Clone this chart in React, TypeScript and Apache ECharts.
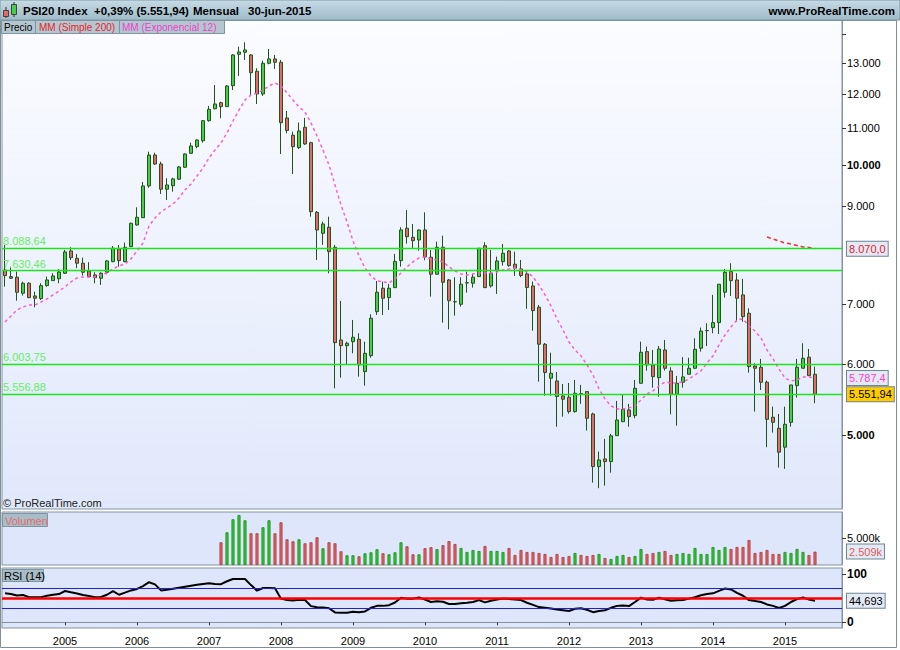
import React, { useEffect, useRef } from 'react';
import * as echarts from 'echarts';

// ---------- data ----------
const START_YEAR = 2004;
const START_MONTH = 3; // first candle: March 2004
const EMPTY_MONTHS_AFTER = 4;
const YEAR_LABELS = ['2005', '2006', '2007', '2008', '2009', '2010', '2011', '2012', '2013', '2014', '2015'];

const OPEN = [
  7642, 7512, 7500, 7198, 7385, 7148, 7099, 7340, 7435, 7472,
  7577, 8024, 7876, 7775, 7622, 7545, 7481, 7597, 7807, 8066,
  7807, 8113, 8579, 8741, 9484, 10270, 10035, 9404, 9491, 9650,
  9950, 10315, 10492, 10655, 11217, 11566, 11748, 11628, 12273, 13305,
  13374, 13282, 12736, 12014, 13001, 13146, 13035, 11296, 10808, 10466,
  11029, 10600, 8863, 8397, 8529, 8101, 6383, 6290, 6355, 6395,
  5883, 6130, 6865, 7291, 7117, 7302, 7827, 8507, 8311, 8254,
  8469, 7896, 7558, 8101, 7448, 7043, 6996, 7391, 7385, 7512,
  8134, 7334, 7629, 7807, 8024, 7755, 7662, 7564, 7334, 6943,
  6313, 5785, 5744, 5527, 5509, 5309, 5560, 5589, 5277, 4609,
  4701, 4669, 4991, 5173, 5332, 5255, 5710, 6194, 5986, 5793,
  6221, 5894, 5551, 5725, 5844, 5935, 6249, 6537, 6589, 6674,
  7216, 7609, 7448, 7167, 6837, 5970, 5950, 5725, 5233, 5086,
  4845, 5165, 5676, 5935, 6106, 5844,
];
const CLOSE = [
  7531, 7481, 7216, 7385, 7117, 7106, 7340, 7448, 7525, 7603,
  8004, 7887, 7775, 7597, 7512, 7492, 7577, 7821, 8080, 7827,
  8101, 8617, 8750, 9484, 10270, 10035, 9404, 9508, 9657, 9959,
  10297, 10511, 10674, 11217, 11549, 11709, 11628, 12264, 13282, 13384,
  13453, 12691, 12014, 13001, 13146, 13035, 11160, 10938, 10492, 10924,
  10565, 8877, 8469, 8601, 8010, 6339, 6290, 6329, 6428, 5986,
  6168, 6750, 7216, 7106, 7291, 7811, 8469, 8324, 8239, 8469,
  7902, 7558, 8101, 7404, 7061, 7040, 7366, 7395, 7500, 8080,
  7302, 7577, 7821, 7977, 7727, 7676, 7535, 7305, 6883, 6313,
  5871, 5859, 5520, 5481, 5309, 5566, 5552, 5219, 4609, 4689,
  4669, 4988, 5196, 5341, 5241, 5637, 6184, 5986, 5808, 6237,
  5935, 5551, 5710, 5804, 5935, 6232, 6532, 6540, 6674, 7366,
  7597, 7435, 7106, 6777, 5960, 5935, 5725, 5205, 5165, 4783,
  5139, 5686, 5950, 6090, 5823, 5551.94,
];
const LOW = [
  7321, 7468, 7061, 7154, 7106, 6943, 7074, 7321, 7435, 7385,
  7564, 7841, 7676, 7531, 7500, 7385, 7353, 7558, 7795, 7707,
  7795, 8113, 8565, 8741, 9442, 10010, 9291, 9148, 9346, 9631,
  9933, 10297, 10449, 10600, 11188, 11549, 11287, 11628, 12138, 12584,
  13112, 11953, 11709, 11953, 12967, 12813, 10297, 10860, 9781, 10431,
  10538, 8764, 7841, 8149, 7577, 5637, 5793, 5996, 6168, 5808,
  5676, 6098, 6807, 6807, 6895, 7302, 7707, 8176, 8080, 8031,
  7835, 7135, 7558, 6674, 6560, 6795, 6953, 7209, 7302, 7512,
  7302, 7302, 7185, 7727, 7707, 7525, 7500, 6915, 6537, 5734,
  5531, 5531, 5107, 5241, 5282, 5295, 5415, 5056, 4423, 4360,
  4389, 4538, 4991, 5173, 5107, 5219, 5710, 5898, 5646, 5517,
  5898, 5273, 5121, 5646, 5844, 5924, 6194, 6285, 6494, 6482,
  7117, 7148, 6691, 6691, 5868, 5309, 5613, 4845, 5030, 4597,
  4582, 5107, 5503, 5935, 5823, 5425,
];
const HIGH = [
  8149, 7707, 7609, 7416, 7404, 7227, 7385, 7512, 7577, 7656,
  8045, 8101, 7963, 7887, 7795, 7597, 7597, 7841, 8128, 8149,
  8197, 8630, 8978, 9582, 10358, 10331, 10095, 9674, 9688, 9984,
  10315, 10600, 10693, 11237, 11649, 12295, 11778, 12295, 13315, 13568,
  13722, 13315, 12836, 13088, 13488, 13282, 13112, 11500, 10904, 11165,
  11296, 10627, 8893, 8652, 8764, 8149, 7056, 6355, 6720, 6494,
  6355, 6819, 7429, 7416, 7372, 7963, 8529, 8916, 8601, 8480,
  8863, 8045, 8218, 8346, 7467, 7500, 7500, 7609, 7564, 8080,
  8205, 8045, 7908, 8170, 8045, 8010, 7841, 7636, 7419, 6984,
  6334, 6178, 5879, 5700, 5715, 5759, 5686, 5589, 5295, 4790,
  4949, 5013, 5457, 5551, 5415, 5759, 6355, 6274, 6221, 6285,
  6383, 5951, 5819, 6106, 6098, 6411, 6589, 6663, 7167, 7366,
  7662, 7775, 7577, 7468, 6925, 6012, 6079, 5749, 5377, 5277,
  5377, 5686, 6079, 6329, 6237, 5960,
];
const EMA12 = [
  6686, 6790, 6895, 6948, 6984, 6984, 7038, 7094, 7167, 7240,
  7316, 7410, 7487, 7506, 7506, 7506, 7545, 7583, 7662, 7721,
  7761, 7862, 8024, 8190, 8557, 8735, 8870, 8962, 9054, 9196,
  9387, 9532, 9731, 9933, 10192, 10403, 10592, 10870, 11208, 11530,
  11830, 11983, 12045, 12138, 12264, 12358, 12264, 12045, 11830, 11620,
  11471, 11151, 10785, 10403, 10010, 9508, 9031, 8645, 8233, 7922,
  7682, 7525, 7429, 7410, 7391, 7468, 7583, 7702, 7801, 7882,
  7902, 7862, 7841, 7801, 7702, 7622, 7564, 7545, 7564, 7583,
  7583, 7583, 7603, 7642, 7662, 7682, 7642, 7603, 7506, 7353,
  7167, 6966, 6738, 6549, 6350, 6221, 6126, 5986, 5834, 5628,
  5485, 5387, 5346, 5346, 5360, 5387, 5471, 5556, 5599, 5671,
  5730, 5715, 5715, 5730, 5774, 5834, 5894, 6016, 6126, 6302,
  6466, 6601, 6720, 6738, 6617, 6532, 6416, 6221, 6079, 5925,
  5789, 5744, 5759, 5804, 5804, 5787.4,
];
const SMA200_START = 127;
const SMA200 = [8318, 8275, 8233, 8190, 8170, 8138, 8108, 8097, 8070];

const VOLUME_START = 36;
const VOLUME_K = [
  4251, 6124, 8558, 9363, 8371, 5936, 5936, 7060, 8371, 5936,
  7996, 4813, 4438, 4813, 4064, 4251, 5187, 3127, 4251, 4064,
  2566, 1816, 1816, 1629, 2191, 2378, 2940, 2191, 2004, 2378,
  4251, 3502, 2004, 2004, 3150, 3340, 2970, 3720, 4470, 3933,
  3184, 2434, 2809, 2622, 3558, 2622, 2622, 2434, 3184, 1873,
  2809, 2434, 2434, 2247, 2060, 1498, 2060, 1498, 1685, 2247,
  1873, 1685, 1873, 2060, 1311, 1124, 1685, 1873, 1498, 1685,
  2996, 2060, 2247, 2434, 2622, 1873, 2060, 2247, 2060, 3184,
  2060, 2060, 3371, 2809, 3371, 2996, 3371, 3371, 4681, 2247,
  2434, 2809, 2060, 2060, 2434, 2247, 2996, 2434, 1873, 2509,
];
const VOLUME_UP = [
  0, 1, 1, 1, 1, 0, 0, 1, 1, 0,
  0, 0, 0, 1, 0, 0, 0, 1, 0, 0,
  0, 1, 1, 0, 1, 1, 1, 0, 1, 1,
  1, 0, 0, 1, 0, 0, 1, 0, 0, 0,
  1, 1, 1, 1, 0, 1, 1, 1, 0, 0,
  0, 0, 0, 0, 0, 0, 0, 0, 0, 1,
  0, 0, 0, 1, 0, 1, 1, 1, 0, 1,
  1, 0, 0, 1, 0, 0, 1, 1, 1, 1,
  1, 1, 1, 1, 1, 0, 0, 0, 0, 0,
  0, 0, 0, 0, 1, 1, 1, 1, 0, 0,
];
const RSI14 = [
  60, 58.5, 55.5, 56.5, 52, 51.7, 52, 55, 57, 58.5,
  64.8, 62, 59.5, 56.5, 54.5, 52, 52.5, 57, 64.5, 57,
  61.5, 66, 69, 75, 83, 78.5, 66, 67.5, 69.5, 71.5,
  73.5, 75.5, 77.5, 79.5, 81, 79.5, 79, 85, 89.6, 89.6,
  89.6, 77, 65.5, 71, 71, 70.5, 49, 46, 45, 46.5,
  46, 33.5, 31, 30.5, 29, 20.5, 20, 20, 22, 21,
  22.5, 30, 34, 34, 35.5, 41, 51, 49, 49, 51.5,
  47, 42, 43.5, 42.5, 38, 38, 39.5, 40.5, 42, 46,
  41.3, 44.5, 47, 49, 48, 47, 46, 40.5, 36, 31.5,
  30, 28.5, 26.5, 25, 23.5, 28, 29, 26, 21, 23.5,
  25, 30, 34, 35, 33.5, 42, 51, 47, 46.5, 51,
  47.5, 44.5, 45.5, 46.2, 49, 52, 56, 58.5, 60, 65,
  70, 68, 61, 55, 46, 44, 42, 37, 34, 29.5,
  34, 42, 48, 51.5, 47, 44.693,
];
const LEVELS = [8088.64, 7630.46, 6003.75, 5556.88];
const PRICE_LABEL_TICKS = [5000, 6000, 7000, 9000, 10000, 11000, 12000, 13000];
const PRICE_BOLD_TICKS = [5000, 10000];
const PRICE_EXTRA_TICKS = [14000];
const PRICE_MIN = 4133;
const PRICE_MAX = 14531;
const VOLUME_TICKS_K = [5000];
const VOLUME_MAX_K = 9925;
const RSI_TICKS = [0, 100];
const RSI_LEVELS = [70, 50, 30];

// ---------- helpers ----------
const L = (v: number) => Math.log10(v);
function fmtNum(n: number, dec: number): string {
  const fixed = n.toFixed(dec);
  const parts = fixed.split('.');
  const intPart = parts[0].replace(/\B(?=(\d{3})+(?!\d))/g, '.');
  return parts[1] ? intPart + ',' + parts[1] : intPart;
}

const N = OPEN.length;
const CATS: string[] = [];
for (let i = 0; i < N + EMPTY_MONTHS_AFTER; i++) {
  const m = START_MONTH - 1 + i;
  CATS.push(`${START_YEAR + Math.floor(m / 12)}-${String((m % 12) + 1).padStart(2, '0')}`);
}
const isYearStart = (idx: number) => CATS[idx] !== undefined && CATS[idx].endsWith('-01') && YEAR_LABELS.includes(CATS[idx].slice(0, 4));

const FONT = 'Liberation Sans, Arial, sans-serif';
const BORDER = '#8494a0';
const BOX_BG = '#e4eaf5';

function buildOption(): any {
  const candleData = OPEN.map((o, i) => [L(o), L(CLOSE[i]), L(LOW[i]), L(HIGH[i])]);
  const emaData = EMA12.map((v) => L(v));
  const smaData = CATS.map((_, i) => (i >= SMA200_START && i < SMA200_START + SMA200.length ? L(SMA200[i - SMA200_START]) : '-'));
  const volData = CATS.map((_, i) => {
    const k = i - VOLUME_START;
    if (k < 0 || k >= VOLUME_K.length) return '-';
    const up = VOLUME_UP[k] === 1;
    return {
      value: VOLUME_K[k],
      itemStyle: { color: up ? '#36c936' : '#e46464', borderColor: up ? '#158a15' : '#a73a3a', borderWidth: 0.8 },
    };
  });

  const boxLabel = (text: string, color: string, bg: string) => ({
    show: true,
    position: 'end',
    distance: 5,
    formatter: text,
    color,
    fontSize: 11,
    fontFamily: FONT,
    backgroundColor: bg,
    borderColor: '#6f8593',
    borderWidth: 1,
    padding: [2, 2, 1, 2],
  });

  const priceFmt = (v: number) => {
    const n = Math.round(Math.pow(10, v));
    const s = fmtNum(n, 0);
    return PRICE_BOLD_TICKS.includes(n) ? `{b|${s}}` : s;
  };

  const xAxisBase = {
    type: 'category',
    data: CATS,
    boundaryGap: true,
  };

  const hidden = { color: 'transparent', width: 0 };

  return {
    animation: false,
    backgroundColor: '#ffffff',
    textStyle: { fontFamily: FONT },
    grid: [
      {
        left: 2, top: 20, width: 840, height: 489, show: true, borderColor: BORDER, borderWidth: 1,
        backgroundColor: new echarts.graphic.LinearGradient(0, 0, 0, 1, [
          { offset: 0, color: '#fbfcff' },
          { offset: 1, color: '#e0e8fb' },
        ]),
      },
      { left: 2, top: 512, width: 840, height: 53, show: true, borderColor: BORDER, borderWidth: 1, backgroundColor: '#dde6fb' },
      { left: 2, top: 568, width: 840, height: 60, show: true, borderColor: BORDER, borderWidth: 1, backgroundColor: '#dde6fb' },
    ],
    xAxis: [
      { ...xAxisBase, gridIndex: 0, show: false },
      { ...xAxisBase, gridIndex: 1, show: false },
      {
        ...xAxisBase,
        gridIndex: 2,
        axisLine: { show: true, lineStyle: { color: BORDER } },
        axisTick: { show: true, interval: (idx: number) => isYearStart(idx), alignWithLabel: true, length: 3, lineStyle: { color: '#333' } },
        axisLabel: {
          interval: (idx: number) => isYearStart(idx),
          formatter: (val: string) => val.slice(0, 4),
          color: '#000', fontSize: 11, margin: 7, fontFamily: FONT,
        },
        splitLine: { show: false },
      },
    ],
    yAxis: [
      {
        type: 'value', gridIndex: 0, position: 'right', min: L(PRICE_MIN), max: L(PRICE_MAX),
        axisLine: { show: true, lineStyle: { color: BORDER } },
        axisTick: { show: true, length: 4, lineStyle: { color: '#333' }, customValues: [...PRICE_LABEL_TICKS, ...PRICE_EXTRA_TICKS].map(L) },
        axisLabel: {
          customValues: PRICE_LABEL_TICKS.map(L), formatter: priceFmt, color: '#000', fontSize: 11, margin: 5, fontFamily: FONT,
          rich: { b: { fontWeight: 'bold', fontSize: 11, color: '#000', fontFamily: FONT } },
        },
        splitLine: { show: false },
      },
      {
        type: 'value', gridIndex: 1, position: 'right', min: 0, max: VOLUME_MAX_K,
        axisLine: { show: true, lineStyle: { color: BORDER } },
        axisTick: { show: true, length: 4, lineStyle: { color: '#333' }, customValues: VOLUME_TICKS_K },
        axisLabel: { customValues: VOLUME_TICKS_K, formatter: (v: number) => fmtNum(v, 0) + 'k', color: '#000', fontSize: 11, margin: 5, fontFamily: FONT },
        splitLine: { show: false },
      },
      {
        type: 'value', gridIndex: 2, position: 'right', min: -11.8, max: 112.4,
        axisLine: { show: true, lineStyle: { color: BORDER } },
        axisTick: { show: true, length: 4, lineStyle: { color: '#333' }, customValues: RSI_TICKS },
        axisLabel: { customValues: RSI_TICKS, formatter: (v: number) => String(v), color: '#000', fontSize: 12, fontWeight: 'bold', margin: 5, fontFamily: FONT },
        splitLine: { show: false },
      },
    ],
    series: [
      {
        type: 'candlestick', name: 'Precio', xAxisIndex: 0, yAxisIndex: 0, data: candleData, barWidth: 4,
        itemStyle: { color: '#45cf45', color0: '#e46a6a', borderColor: '#24521f', borderColor0: '#24521f', borderWidth: 1 },
        markLine: {
          silent: true, symbol: 'none', animation: false, precision: 10,
          data: [
            ...LEVELS.map((v) => ({
              yAxis: L(v),
              lineStyle: { color: '#19e619', width: 1.3, type: 'solid' },
              label: { show: true, position: 'insideStartTop', distance: [1, 1], formatter: fmtNum(v, 2), color: '#62f062', fontSize: 11, fontFamily: FONT },
            })),
            {
              yAxis: L(CLOSE[N - 1]),
              lineStyle: hidden,
              label: boxLabel(fmtNum(CLOSE[N - 1], 2), '#000', '#ffcc00'),
            },
          ],
        },
      },
      {
        type: 'line', name: 'MM (Exponencial 12)', xAxisIndex: 0, yAxisIndex: 0, data: emaData, showSymbol: false, z: 3,
        lineStyle: { color: '#ff5ccf', width: 1.5, type: [3, 3] },
        markLine: {
          silent: true, symbol: 'none', animation: false, precision: 10,
          data: [{ yAxis: L(EMA12[N - 1]), lineStyle: hidden, label: boxLabel(fmtNum(EMA12[N - 1], 1), '#ff3fc8', BOX_BG) }],
        },
      },
      {
        type: 'line', name: 'MM (Simple 200)', xAxisIndex: 0, yAxisIndex: 0, data: smaData, showSymbol: false, z: 3,
        lineStyle: { color: '#ee3030', width: 1.5, type: [4, 3] },
        markLine: {
          silent: true, symbol: 'none', animation: false, precision: 10,
          data: [{ yAxis: L(SMA200[SMA200.length - 1]), lineStyle: hidden, label: boxLabel(fmtNum(SMA200[SMA200.length - 1], 1), '#e8202a', BOX_BG) }],
        },
      },
      {
        type: 'bar', name: 'Volumen', xAxisIndex: 1, yAxisIndex: 1, data: volData, barWidth: 3,
        markLine: {
          silent: true, symbol: 'none', animation: false, precision: 10,
          data: [{ yAxis: VOLUME_K[VOLUME_K.length - 1], lineStyle: hidden, label: boxLabel(fmtNum(VOLUME_K[VOLUME_K.length - 1], 0) + 'k', '#e05a5a', BOX_BG) }],
        },
      },
      {
        // RSI reference levels, drawn beneath the RSI line
        type: 'line', name: 'RSI levels', xAxisIndex: 2, yAxisIndex: 2, data: [], z: 1, silent: true,
        markLine: {
          silent: true, symbol: 'none', animation: false, precision: 10,
          data: RSI_LEVELS.map((v) => ({
            yAxis: v,
            lineStyle: v === 50 ? { color: '#ff0000', width: 2.5, type: 'solid' } : { color: '#2222cc', width: 1, type: 'solid' },
            label: { show: false },
          })),
        },
      },
      {
        type: 'line', name: 'RSI (14)', xAxisIndex: 2, yAxisIndex: 2, data: RSI14, showSymbol: false, z: 4,
        lineStyle: { color: '#000', width: 2 },
        markLine: {
          silent: true, symbol: 'none', animation: false, precision: 10,
          data: [{ yAxis: RSI14[N - 1], lineStyle: hidden, label: boxLabel(fmtNum(RSI14[N - 1], 3), '#000', BOX_BG) }],
        },
      },
    ],
    graphic: [
      // title bar
      {
        type: 'rect', z: 50, shape: { x: 0, y: 0, width: 900, height: 20 },
        style: {
          fill: new echarts.graphic.LinearGradient(0, 0, 0, 1, [
            { offset: 0, color: '#c6dbe5' },
            { offset: 1, color: '#9fbbc9' },
          ]),
          stroke: '#7f97a4', lineWidth: 1,
        },
      },
      // icon
      { type: 'line', z: 51, shape: { x1: 6, y1: 7, x2: 6, y2: 18 }, style: { stroke: '#333', lineWidth: 1 } },
      { type: 'rect', z: 52, shape: { x: 3.5, y: 10.5, width: 5, height: 6 }, style: { fill: '#e46a6a', stroke: '#444', lineWidth: 1 } },
      { type: 'line', z: 51, shape: { x1: 14, y1: 2, x2: 14, y2: 17 }, style: { stroke: '#333', lineWidth: 1 } },
      { type: 'rect', z: 52, shape: { x: 11.5, y: 4.5, width: 5, height: 10 }, style: { fill: '#45cf45', stroke: '#444', lineWidth: 1 } },
      { type: 'text', z: 53, x: 23, y: 11, style: { text: 'PSI20 Index', fill: '#000', font: `bold 11.5px ${FONT}`, verticalAlign: 'middle' } },
      { type: 'text', z: 53, x: 94, y: 11, style: { text: '+0,39% (5.551,94)', fill: '#000', font: `bold 11.5px ${FONT}`, verticalAlign: 'middle' } },
      { type: 'text', z: 53, x: 193, y: 11, style: { text: 'Mensual', fill: '#000', font: `bold 11.5px ${FONT}`, verticalAlign: 'middle' } },
      { type: 'text', z: 53, x: 248, y: 11, style: { text: '30-jun-2015', fill: '#000', font: `bold 11.5px ${FONT}`, verticalAlign: 'middle' } },
      { type: 'text', z: 53, x: 895, y: 11, style: { text: 'www.ProRealTime.com', fill: '#000', font: `bold 11.5px ${FONT}`, align: 'right', verticalAlign: 'middle' } },
      // legend tabs
      { type: 'rect', z: 50, shape: { x: 1.5, y: 20.5, width: 34, height: 13 }, style: { fill: '#b4c7d1', stroke: '#7d95a2', lineWidth: 1 } },
      { type: 'rect', z: 50, shape: { x: 35.5, y: 20.5, width: 84, height: 13 }, style: { fill: '#b4c7d1', stroke: '#7d95a2', lineWidth: 1 } },
      { type: 'rect', z: 50, shape: { x: 119.5, y: 20.5, width: 105, height: 13 }, style: { fill: '#b4c7d1', stroke: '#7d95a2', lineWidth: 1 } },
      { type: 'text', z: 51, x: 4, y: 27.5, style: { text: 'Precio', fill: '#000', font: `10px ${FONT}`, verticalAlign: 'middle' } },
      { type: 'text', z: 51, x: 39, y: 27.5, style: { text: 'MM (Simple 200)', fill: '#e8232b', font: `10px ${FONT}`, verticalAlign: 'middle' } },
      { type: 'text', z: 51, x: 122, y: 27.5, style: { text: 'MM (Exponencial 12)', fill: '#ee3fcc', font: `10px ${FONT}`, verticalAlign: 'middle' } },
      // copyright
      { type: 'text', z: 51, x: 3, y: 503, style: { text: '© ProRealTime.com', fill: '#222', font: `11px ${FONT}`, verticalAlign: 'middle' } },
      // panel tabs
      { type: 'rect', z: 50, shape: { x: 2.5, y: 513.5, width: 45, height: 13 }, style: { fill: '#a9bdc9', stroke: '#7d95a2', lineWidth: 1 } },
      { type: 'text', z: 51, x: 5, y: 520.5, style: { text: 'Volumen', fill: '#e86a6a', font: `11px ${FONT}`, verticalAlign: 'middle' } },
      { type: 'rect', z: 50, shape: { x: 2.5, y: 569.5, width: 41, height: 12 }, style: { fill: '#a9bdc9', stroke: '#7d95a2', lineWidth: 1 } },
      { type: 'text', z: 51, x: 4, y: 576, style: { text: 'RSI (14)', fill: '#000', font: `11px ${FONT}`, verticalAlign: 'middle' } },
      // outer frame
      { type: 'rect', z: 49, shape: { x: 0.5, y: 20.5, width: 896, height: 627 }, style: { fill: 'none', stroke: '#7f8f9a', lineWidth: 1 } },
    ],
  };
}

export default function App() {
  const ref = useRef<HTMLDivElement>(null);
  useEffect(() => {
    if (!ref.current) return;
    const chart = echarts.init(ref.current, null, { renderer: 'svg' });
    chart.setOption(buildOption());
    return () => chart.dispose();
  }, []);
  return <div ref={ref} style={{ position: 'fixed', left: 0, top: 0, width: 900, height: 650 }} />;
}
